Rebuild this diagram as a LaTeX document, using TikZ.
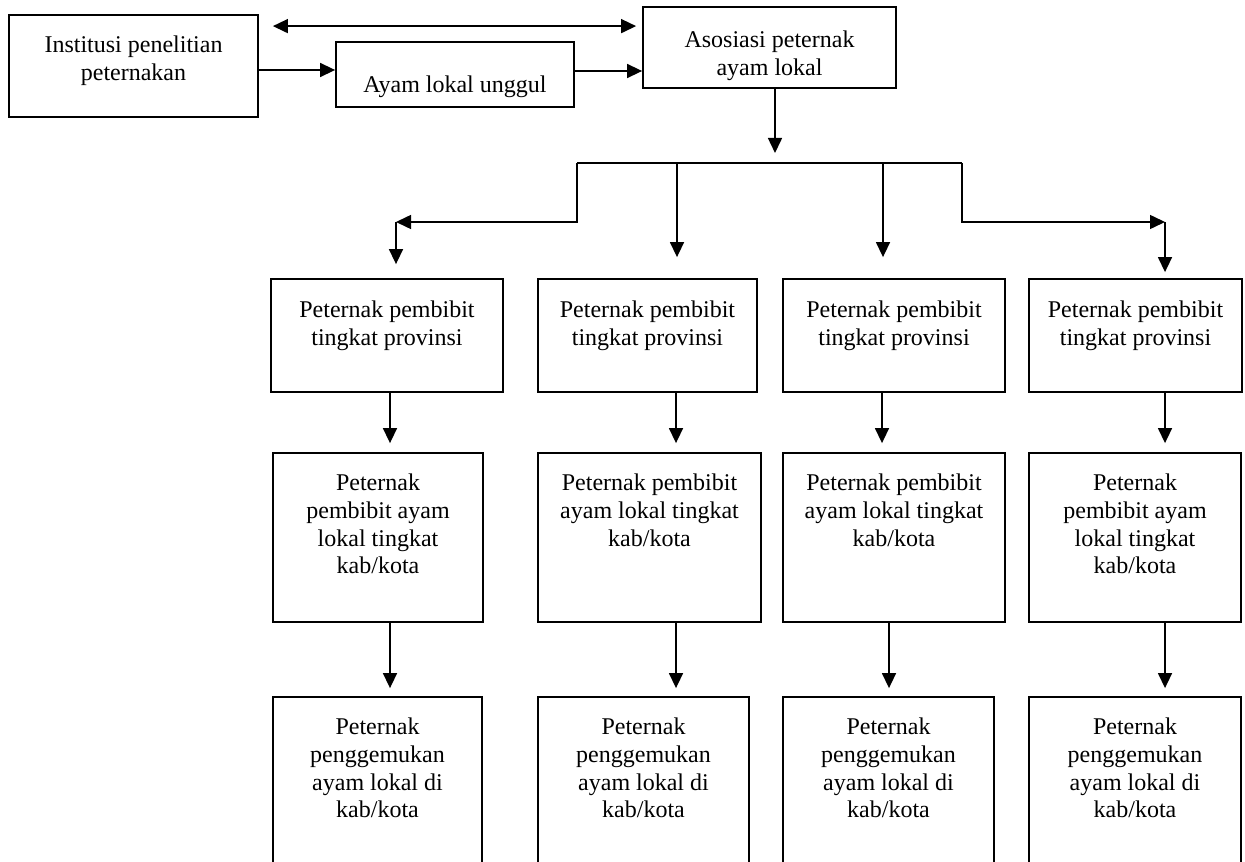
\documentclass[tikz,border=0pt]{standalone}
\usepackage{fontspec}
\setmainfont{Liberation Serif}
\usetikzlibrary{arrows.meta, calc}

\newcommand{\boxtxt}[4][9.5pt]{\parbox[c][#3][t]{#2}{\centering\vspace*{#1}\strut #4}}

\begin{document}
\begin{tikzpicture}[x=0.5pt, y=-0.5pt, >={Triangle[length=7.5pt,width=7pt]},
    box/.style={draw, rectangle, line width=0.9pt, inner sep=0pt, font=\fontsize{12}{13.8}\selectfont},
    conn/.style={->, line width=0.75pt}]
    \clip (0,0) rectangle (1245,861);

    % Kotak bagian atas
    \node (inst) [box] at (133.5,66) {\boxtxt[9.3pt]{124.5pt}{51pt}{Institusi penelitian\\peternakan}};
    \node (ayam) [box] at (455,74.5) {\boxtxt[15.8pt]{119pt}{32.5pt}{Ayam lokal unggul}};
    \node (asos) [box] at (769.5,47.5) {\boxtxt[10.8pt]{126.5pt}{40.5pt}{Asosiasi peternak\\ayam lokal}};

    % Peternak pembibit tingkat provinsi
    \node (p1) [box] at (387,335.5) {\boxtxt[9.8pt]{116pt}{56.5pt}{Peternak pembibit\\tingkat provinsi}};
    \node (p2) [box] at (647.5,335.5) {\boxtxt[9.8pt]{109.5pt}{56.5pt}{Peternak pembibit\\tingkat provinsi}};
    \node (p3) [box] at (894,335.5) {\boxtxt[9.8pt]{111pt}{56.5pt}{Peternak pembibit\\tingkat provinsi}};
    \node (p4) [box] at (1135.5,335.5) {\boxtxt[9.8pt]{106.5pt}{56.5pt}{Peternak pembibit\\tingkat provinsi}};

    % Peternak pembibit tingkat kab/kota
    \node (k1) [box] at (378,537.5) {\boxtxt[9.3pt]{105pt}{84.5pt}{Peternak\\pembibit ayam\\lokal tingkat\\kab/kota}};
    \node (k2) [box] at (649.5,537.5) {\boxtxt[9.3pt]{111.5pt}{84.5pt}{Peternak pembibit\\ayam lokal tingkat\\kab/kota}};
    \node (k3) [box] at (894,537.5) {\boxtxt[9.3pt]{111pt}{84.5pt}{Peternak pembibit\\ayam lokal tingkat\\kab/kota}};
    \node (k4) [box] at (1135,537.5) {\boxtxt[9.3pt]{106pt}{84.5pt}{Peternak\\pembibit ayam\\lokal tingkat\\kab/kota}};

    % Peternak penggemukan
    \node (g1) [box] at (377.5,788.5) {\boxtxt[9.3pt]{104.5pt}{91.5pt}{Peternak\\penggemukan\\ayam lokal di\\kab/kota}};
    \node (g2) [box] at (643.5,788.5) {\boxtxt[9.3pt]{105.5pt}{91.5pt}{Peternak\\penggemukan\\ayam lokal di\\kab/kota}};
    \node (g3) [box] at (888.5,788.5) {\boxtxt[9.3pt]{105.5pt}{91.5pt}{Peternak\\penggemukan\\ayam lokal di\\kab/kota}};
    \node (g4) [box] at (1135,788.5) {\boxtxt[9.3pt]{106pt}{91.5pt}{Peternak\\penggemukan\\ayam lokal di\\kab/kota}};

    % Titik cabang
    \coordinate (hub) at (775,153);
    \coordinate (barL) at (577,163);
    \coordinate (barR) at (962,163);
    \coordinate (d2) at (677,163);
    \coordinate (d3) at (883,163);
    \coordinate (elbowL) at (396,222);
    \coordinate (elbowR) at (1165,222);

    % Panah bagian atas
    \draw[<->, line width=0.75pt] ($(inst.north east)+(14,12)$) -- ($(asos.north west)+(-6,20)$);
    \draw[conn] ([yshift=-2pt]inst.east) -- ([yshift=2.25pt]ayam.west);
    \draw[conn] ([yshift=1.75pt]ayam.east) -- ([yshift=-11.75pt]asos.west);
    \draw[conn] (asos.south -| hub) -- (hub);

    % Percabangan ke provinsi
    \draw[line width=0.75pt] (barL) -- (barR);
    \draw[conn] (barL) |- (elbowL);
    \draw[conn] (elbowL) -- ($(elbowL |- p1.north)+(0,-14)$);
    \draw[conn] (d2) -- ($(d2 |- p2.north)+(0,-21)$);
    \draw[conn] (d3) -- ($(d3 |- p3.north)+(0,-21)$);
    \draw[conn] (barR) |- (elbowR);
    \draw[conn] (elbowR) -- ($(elbowR |- p4.north)+(0,-6)$);

    % Panah antar baris
    \foreach \i/\xa/\xb in {1/390/390, 2/676/676, 3/882/889, 4/1165/1165} {
        \draw[conn] (p\i.south -| \xa,0) -- ($(k\i.north -| \xa,0)+(0,-9)$);
        \draw[conn] (k\i.south -| \xb,0) -- ($(g\i.north -| \xb,0)+(0,-8)$);
    }
\end{tikzpicture}
\end{document}
